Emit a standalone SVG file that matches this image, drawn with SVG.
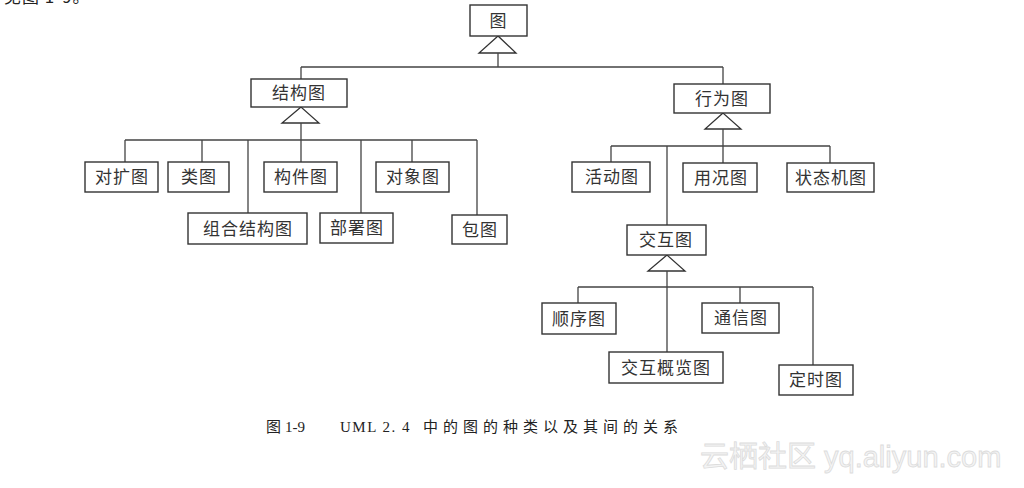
<svg xmlns="http://www.w3.org/2000/svg" width="1024" height="488" viewBox="0 0 1024 488">
<style>
.box{fill:#fff;stroke:#333;stroke-width:1.4}
.lbl{font-family:"Noto Sans CJK SC","Noto Sans CJK JP",sans-serif;font-size:17px;fill:#333;text-anchor:middle;letter-spacing:1px}
.ln{stroke:#444;stroke-width:1.3;fill:none}
.tri{fill:#fff;stroke:#333;stroke-width:1.3}
.cap{font-family:"Liberation Serif","Noto Sans CJK SC",serif;font-size:15px;fill:#222}
.capc{font-family:"Noto Sans CJK SC",sans-serif;font-size:15px;fill:#222;letter-spacing:5px}
.wm{font-family:"Liberation Sans","Noto Sans CJK SC",sans-serif;font-size:29px;fill:#f4f4f4;stroke:#dcdcdc;stroke-width:0.8}
</style>
<rect width="1024" height="488" fill="#fff"/>
<text x="4" y="3" class="capc" style="font-size:17px;letter-spacing:1px">见图 1-9。</text>
<g id="connectors">
<polygon class="tri" points="498,36 479,53 516,53"/>
<path class="ln" d="M498,53V67M301,67H723M301,67V79M723,67V84"/>
<polygon class="tri" points="301,107 282,123 319,123"/>
<path class="ln" d="M301,123V140M125,140H477M125,140V162M202,140V162M248,140V213M301,140V162M361,140V213M412,140V162M477,140V215"/>
<polygon class="tri" points="723,113 705,129 741,129"/>
<path class="ln" d="M723,129V146M611,146H830M611,146V162M667,146V225M723,146V163M830,146V163"/>
<polygon class="tri" points="667,255 648,271 685,271"/>
<path class="ln" d="M667,271V287M578,287H813M578,287V303M667,287V352M740,287V303M813,287V365"/>
</g>
<g id="n-tu"><rect class="box" x="470" y="5" width="57" height="31"/><text class="lbl" x="498.5" y="26.5">图</text></g>
<g id="n-jiegou"><rect class="box" x="251" y="79" width="96" height="28"/><text class="lbl" x="299" y="99">结构图</text></g>
<g id="n-xingwei"><rect class="box" x="674" y="84" width="96" height="29"/><text class="lbl" x="722" y="104.5">行为图</text></g>
<g id="n-duikuo"><rect class="box" x="85" y="162" width="73" height="30"/><text class="lbl" x="122" y="183">对扩图</text></g>
<g id="n-lei"><rect class="box" x="168" y="162" width="61" height="30"/><text class="lbl" x="199" y="183">类图</text></g>
<g id="n-goujian"><rect class="box" x="264" y="162" width="73" height="30"/><text class="lbl" x="301" y="183">构件图</text></g>
<g id="n-duixiang"><rect class="box" x="376" y="162" width="73" height="30"/><text class="lbl" x="413" y="183">对象图</text></g>
<g id="n-zuhe"><rect class="box" x="188" y="213" width="119" height="31"/><text class="lbl" x="248" y="234.5">组合结构图</text></g>
<g id="n-bushu"><rect class="box" x="320" y="213" width="73" height="30"/><text class="lbl" x="357" y="234">部署图</text></g>
<g id="n-bao"><rect class="box" x="452" y="215" width="55" height="29"/><text class="lbl" x="480" y="235.5">包图</text></g>
<g id="n-huodong"><rect class="box" x="572" y="162" width="78" height="30"/><text class="lbl" x="612" y="183">活动图</text></g>
<g id="n-yongkuang"><rect class="box" x="683" y="163" width="74" height="29"/><text class="lbl" x="721" y="183.5">用况图</text></g>
<g id="n-zhuangtai"><rect class="box" x="787" y="163" width="87" height="29"/><text class="lbl" x="831" y="183.5">状态机图</text></g>
<g id="n-jiaohu"><rect class="box" x="627" y="225" width="79" height="30"/><text class="lbl" x="666" y="246">交互图</text></g>
<g id="n-shunxu"><rect class="box" x="542" y="303" width="74" height="31"/><text class="lbl" x="579" y="324.5">顺序图</text></g>
<g id="n-tongxin"><rect class="box" x="702" y="303" width="77" height="30"/><text class="lbl" x="741" y="324">通信图</text></g>
<g id="n-gailan"><rect class="box" x="609" y="352" width="114" height="31"/><text class="lbl" x="666" y="373.5">交互概览图</text></g>
<g id="n-dingshi"><rect class="box" x="779" y="365" width="74" height="30"/><text class="lbl" x="816" y="386">定时图</text></g>
<g id="caption">
<text class="capc" x="266" y="432" style="letter-spacing:0">图</text>
<text class="cap" x="285" y="432">1-9</text>
<text class="cap" x="340" y="432" style="letter-spacing:1.5px">UML 2. 4</text>
<text class="capc" x="423" y="432">中的图的种类以及其间的关系</text>
</g>
<text class="wm" x="700" y="467">云栖社区 yq.aliyun.com</text>
</svg>
